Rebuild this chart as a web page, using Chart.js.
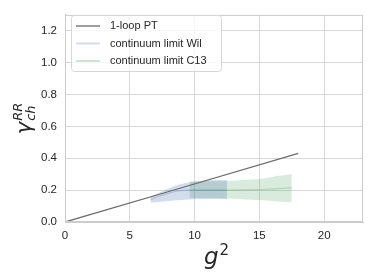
<!DOCTYPE html>
<html>
<head>
<meta charset="utf-8">
<script src="https://cdn.jsdelivr.net/npm/chart.js@4"></script>
<style>
html,body{margin:0;padding:0;background:#fff;}
#wrap{width:374px;height:280px;position:relative;}
</style>
</head>
<body>
<div id="wrap"><canvas id="c" width="374" height="280"></canvas></div>
<script>
// ---- data ----
const ptX = [0, 18];
const ptY = [0, 0.43];

const wilX     = [6.6, 7.2, 8.0, 8.8, 9.6, 10.5, 11.5, 12.5];
const wilMid   = [0.14, 0.16, 0.18, 0.195, 0.2, 0.2, 0.2, 0.2];
const wilUpper = [0.155, 0.18, 0.21, 0.235, 0.25, 0.258, 0.262, 0.263];
const wilLower = [0.122, 0.126, 0.132, 0.138, 0.142, 0.144, 0.144, 0.144];

const c13X     = [9.6, 11.0, 12.5, 14.0, 15.5, 16.5, 17.5];
const c13Mid   = [0.2, 0.2, 0.2, 0.202, 0.205, 0.21, 0.215];
const c13Upper = [0.255, 0.256, 0.258, 0.265, 0.275, 0.29, 0.302];
const c13Lower = [0.15, 0.15, 0.148, 0.142, 0.135, 0.128, 0.123];

const xTicks = [0, 5, 10, 15, 20];
const yTicks = [0.0, 0.2, 0.4, 0.6, 0.8, 1.0, 1.2];
const labels = ["1-loop PT", "continuum limit Wil", "continuum limit C13"];

const pts = (xs, ys) => xs.map((x, i) => ({x: x, y: ys[i]}));

const blue = 'rgba(76,114,176,0.25)';
const blueLine = 'rgba(76,114,176,0.25)';
const green = 'rgba(85,168,104,0.23)';
const greenLine = 'rgba(85,168,104,0.3)';
const ptColor = '#6b6b6b';

const titlesPlugin = {
  id: 'titles',
  afterDraw(chart) {
    const ctx = chart.ctx;
    ctx.save();
    ctx.fillStyle = '#262626';
    ctx.textBaseline = 'alphabetic';
    ctx.font = 'italic 23px "DejaVu Sans"';
    const gw = ctx.measureText('g').width;
    ctx.textAlign = 'left';
    const xc = (chart.chartArea.left + chart.chartArea.right) / 2;
    ctx.fillText('g', xc - 10, 264);
    ctx.font = '15px "DejaVu Sans"';
    ctx.fillText('2', xc - 10 + gw + 1, 255);
    ctx.translate(31, 119);
    ctx.rotate(-Math.PI / 2);
    ctx.font = 'italic 21px "DejaVu Sans"';
    const w1 = ctx.measureText('γ').width;
    ctx.font = 'italic 13px "DejaVu Sans"';
    const w2 = ctx.measureText('RR').width;
    const total = w1 + w2;
    let x0 = -total / 2;
    ctx.font = 'italic 21px "DejaVu Sans"';
    ctx.fillText('γ', x0, 0);
    ctx.font = 'italic 13px "DejaVu Sans"';
    ctx.fillText('RR', x0 + w1 + 1, -9);
    ctx.fillText('ch', x0 + w1 + 1, 4);
    ctx.restore();
  }
};

const legendPlugin = {
  id: 'customLegend',
  afterDraw(chart) {
    const ctx = chart.ctx;
    ctx.save();
    const bx = 71.5, by = 15.5, bw = 150, bh = 56, r = 3;
    ctx.beginPath();
    ctx.moveTo(bx + r, by);
    ctx.arcTo(bx + bw, by, bx + bw, by + bh, r);
    ctx.arcTo(bx + bw, by + bh, bx, by + bh, r);
    ctx.arcTo(bx, by + bh, bx, by, r);
    ctx.arcTo(bx, by, bx + bw, by, r);
    ctx.closePath();
    ctx.fillStyle = 'rgba(255,255,255,0.8)';
    ctx.fill();
    ctx.strokeStyle = '#d6d6d6';
    ctx.lineWidth = 1;
    ctx.stroke();
    const cols = [ptColor, blueLine, greenLine];
    const rows = [26, 43.5, 61];
    ctx.font = '11px "Liberation Sans"';
    ctx.textBaseline = 'middle';
    ctx.textAlign = 'left';
    for (let i = 0; i < 3; i++) {
      ctx.beginPath();
      ctx.strokeStyle = cols[i];
      ctx.lineWidth = i === 0 ? 1.3 : 2;
      ctx.moveTo(76, rows[i]);
      ctx.lineTo(100, rows[i]);
      ctx.stroke();
      ctx.fillStyle = '#262626';
      ctx.fillText(labels[i], 110, rows[i]);
    }
    ctx.restore();
  }
};

new Chart(document.getElementById('c'), {
  type: 'line',
  data: {
    datasets: [
      {label: labels[0], data: pts(ptX, ptY), borderColor: ptColor, borderWidth: 1.3, pointRadius: 0, fill: false, order: 0},
      {label: labels[1], data: pts(wilX, wilMid), borderColor: blueLine, borderWidth: 1.3, pointRadius: 0, fill: false, order: 1},
      {label: labels[2], data: pts(c13X, c13Mid), borderColor: greenLine, borderWidth: 1.3, pointRadius: 0, fill: false, order: 1},
      {label: 'wilU', data: pts(wilX, wilUpper), borderWidth: 0, borderColor: 'rgba(0,0,0,0)', pointRadius: 0, fill: 4, backgroundColor: blue, order: 2},
      {label: 'wilL', data: pts(wilX, wilLower), borderWidth: 0, borderColor: 'rgba(0,0,0,0)', pointRadius: 0, fill: false, order: 2},
      {label: 'c13U', data: pts(c13X, c13Upper), borderWidth: 0, borderColor: 'rgba(0,0,0,0)', pointRadius: 0, fill: 6, backgroundColor: green, order: 2},
      {label: 'c13L', data: pts(c13X, c13Lower), borderWidth: 0, borderColor: 'rgba(0,0,0,0)', pointRadius: 0, fill: false, order: 2}
    ]
  },
  options: {
    responsive: false,
    animation: false,
    devicePixelRatio: 1,
    layout: {padding: {top: 10, right: 11, left: 0, bottom: 0}},
    plugins: {legend: {display: false}, tooltip: {enabled: false}},
    elements: {line: {tension: 0.3}},
    scales: {
      x: {
        type: 'linear', min: 0, max: 23,
        afterFit(s) { s.height = 58; },
        afterBuildTicks(s) { s.ticks = xTicks.map(v => ({value: v})); },
        ticks: {font: {family: 'Liberation Sans', size: 11.5}, color: '#262626', padding: 7, maxRotation: 0},
        grid: {color: '#d8d8d8', drawTicks: false, lineWidth: 1},
        border: {color: '#cccccc'}
      },
      y: {
        type: 'linear', min: 0, max: 1.3,
        afterFit(s) { s.width = 65; },
        afterBuildTicks(s) { s.ticks = yTicks.map(v => ({value: v})); },
        ticks: {font: {family: 'Liberation Sans', size: 11.5}, color: '#262626', padding: 8, callback: v => v.toFixed(1)},
        grid: {color: '#d8d8d8', drawTicks: false, lineWidth: 1},
        border: {color: '#cccccc'}
      }
    }
  },
  plugins: [titlesPlugin, legendPlugin, {
    id: 'frame',
    afterDatasetsDraw(chart) {
      const a = chart.chartArea, ctx = chart.ctx;
      ctx.save();
      ctx.strokeStyle = '#cccccc';
      ctx.lineWidth = 1;
      ctx.strokeRect(a.left + 0.5, a.top + 0.5, a.right - a.left - 1, a.bottom - a.top - 1);
      ctx.restore();
    }
  }]
});
</script>
</body>
</html>
